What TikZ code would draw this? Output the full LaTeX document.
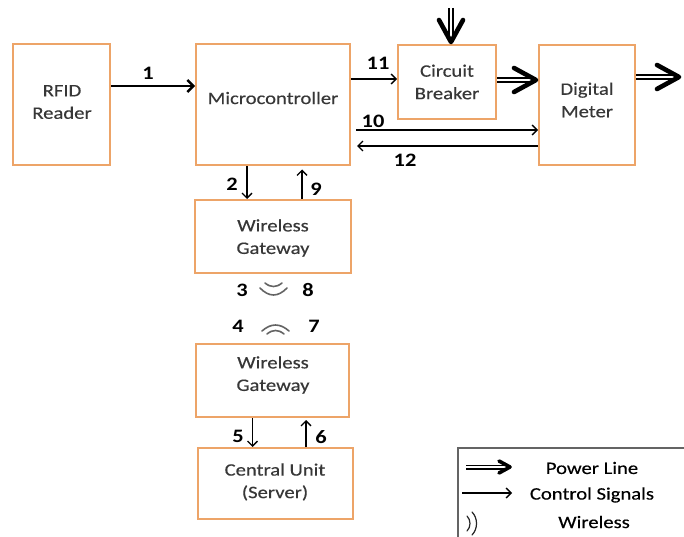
\documentclass[tikz,border=0pt]{standalone}
\usepackage{fontspec}
\setmainfont{Carlito}[FakeStretch=1.18]
\newfontfamily\boxfont{Carlito}[FakeStretch=1.18,FakeBold=0.35]
\usetikzlibrary{arrows.meta}
\definecolor{boxorange}{RGB}{237,164,104}
\definecolor{labelgrey}{RGB}{55,55,55}
\definecolor{wavegrey}{RGB}{100,100,100}
\begin{document}
\begin{tikzpicture}[x=1pt,y=-1pt,
  block/.style={draw=boxorange,line width=2pt,fill=white,inner sep=0pt,rectangle},
  lbl/.style={text=labelgrey,align=center,font=\boxfont\fontsize{17.5}{22.5}\selectfont},
  num/.style={font=\fontsize{19}{20}\selectfont\bfseries,inner sep=0pt},
  ctrl/.style={line width=1.3pt,-{Straight Barb[length=5pt,width=10pt,line width=1.3pt]}},
  ctrlthick/.style={line width=2.4pt,-{Straight Barb[length=6pt,width=12pt,line width=2.4pt]}},
  pshaft/.style={double=white,double distance=2.8pt,line width=1.8pt,shorten >=5pt},
  powertip/.pic={\draw[line width=4.6pt,line cap=round,line join=round]
    (-22,-12) -- (0,0) -- (-22,12);},
  legendtip/.pic={\draw[line width=3.6pt,line cap=round,line join=round]
    (-11,-6) -- (0,0) -- (-11,6);},
  wave/.style={draw=wavegrey,line width=1.6pt,line cap=round}]
\useasboundingbox (0,0) rectangle (684,537);

% blocks
\node[block,minimum width=97pt,minimum height=121pt] (rfid) at (61.5,105) {};
\node[block,minimum width=154pt,minimum height=121pt] (micro) at (273,105) {};
\node[block,minimum width=98pt,minimum height=74pt] (cb) at (447,82) {};
\node[block,minimum width=96pt,minimum height=120pt] (dm) at (587,105) {};
\node[block,minimum width=156pt,minimum height=73pt] (gw1) at (273,236.5) {};
\node[block,minimum width=153pt,minimum height=73pt] (gw2) at (272.5,380.5) {};
\node[block,minimum width=155pt,minimum height=71pt] (cu) at (275.5,483.5) {};

% block captions
\node[lbl] (rfid-t) at (62,102) {RFID\\Reader};
\node[lbl] (micro-t) at (273,98) {Microcontroller};
\node[lbl] (cb-t) at (447,82) {Circuit\\Breaker};
\node[lbl] (dm-t) at (587,100) {Digital\\Meter};
\node[lbl] (gw1-t) at (273,238) {Wireless\\Gateway};
\node[lbl] (gw2-t) at (273,375) {Wireless\\Gateway};
\node[lbl] (cu-t) at (275,482) {Central Unit\\(Server)};

% control signals
\draw[ctrlthick] ([yshift=19pt]rfid.east) -- ([yshift=19pt]micro.west);
\draw[ctrl] ([yshift=26pt]micro.east) -- ([yshift=26pt]micro.east -| cb.west);
\draw[ctrl] ([xshift=5pt,yshift=-25pt]micro.east) -- ([yshift=-25pt]micro.east -| dm.west);
\draw[ctrl] ([yshift=-41pt]dm.west) -- ([xshift=6pt,yshift=-41pt]dm.west -| micro.east);
\draw[ctrl] ([xshift=-26pt]micro.south) -- ([xshift=-26pt]micro.south |- gw1.north);
\draw[ctrl] ([xshift=29pt]gw1.north) -- ([xshift=29pt,yshift=-3pt]gw1.north |- micro.south);
\draw[ctrl] ([xshift=-20pt]gw2.south) -- ([xshift=-20pt]gw2.south |- cu.north);
\draw[ctrl] ([xshift=33.5pt]gw2.south |- cu.north) -- ([xshift=33.5pt,yshift=-2pt]gw2.south);

% power lines: double shaft plus a heavy open head
\coordinate (mains) at (451,8);
\coordinate (mainsin) at (451,42);
\coordinate (cbout) at (497,80);
\coordinate (dmin) at (536,80);
\coordinate (dmout) at (636,77);
\coordinate (load) at (679,77);
\draw[pshaft] (mains) -- (mainsin);
\pic[rotate=-90] at (mainsin) {powertip};
\draw[pshaft] (cbout) -- (dmin);
\pic at (dmin) {powertip};
\draw[pshaft] (dmout) -- (load);
\pic at (load) {powertip};

% signal numbers
\node[num] (n1) at (148,73) {1};
\node[num] (n11) at (378,63) {11};
\node[num] (n10) at (373,121) {10};
\node[num] (n12) at (405,160) {12};
\node[num] (n2) at (232,184) {2};
\node[num] (n9) at (316,189) {9};
\node[num] (n3) at (242,290) {3};
\node[num] (n8) at (308,290) {8};
\node[num] (n4) at (238,326) {4};
\node[num] (n7) at (314,326) {7};
\node[num] (n5) at (238,436) {5};
\node[num] (n6) at (321,437) {6};

% radio waves between the gateways
\draw[wave] (265,283) .. controls (270.7,287.7) and (276.3,287.7) .. (282,283);
\draw[wave] (260,288) .. controls (269,297.3) and (278,297.3) .. (287,288);
\draw[wave] (262,331) .. controls (271,323) and (280,323) .. (289,331);
\draw[wave] (267,334) .. controls (272.7,329.3) and (278.3,329.3) .. (284,334);

% legend
\draw[line width=1.2pt,draw=wavegrey] (458,545) -- (458,448) -- (690,448);
\coordinate (lp1) at (466,467);
\coordinate (lp2) at (510,467);
\draw[pshaft,double distance=2.2pt,line width=1.4pt,shorten >=3pt] (lp1) -- (lp2);
\pic at (lp2) {legendtip};
\coordinate (lc1) at (462,493);
\coordinate (lc2) at (512,493);
\draw[ctrl] (lc1) -- (lc2);
\draw[wave,draw=black!85,line width=1.2pt] (467,516) .. controls (471,520) and (471,527) .. (467,531);
\draw[wave,draw=black!85,line width=1.2pt] (472,512) .. controls (478,518) and (478,529) .. (472,535);
\node[lbl,text=black] (leg-p) at (592,468) {Power Line};
\node[lbl,text=black] (leg-c) at (592,495) {Control Signals};
\node[lbl,text=black] (leg-w) at (594,522) {Wireless};
\end{tikzpicture}
\end{document}
